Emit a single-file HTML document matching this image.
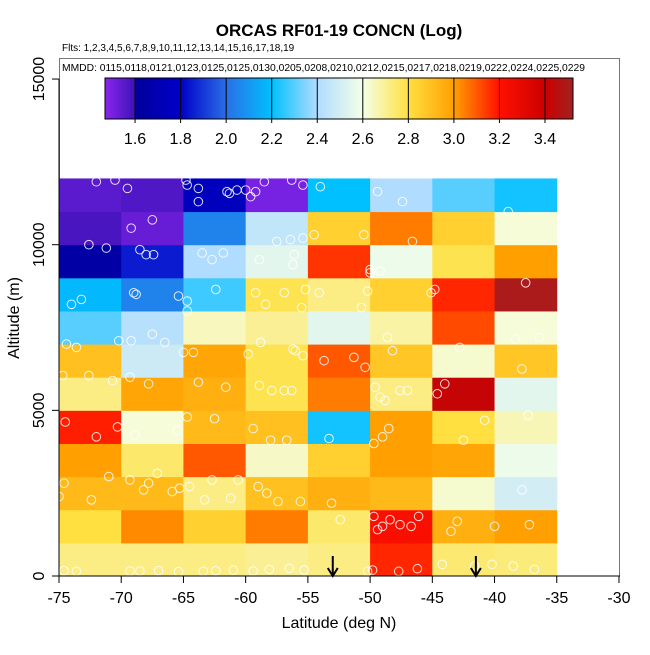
<!DOCTYPE html>
<html><head><meta charset="utf-8"><style>
body{margin:0;background:#fff;}
svg text{font-family:"Liberation Sans",sans-serif;}
</style></head><body>
<svg id="chart" width="650" height="650" viewBox="0 0 650 650" xmlns="http://www.w3.org/2000/svg">
<defs><linearGradient id="cbg" x1="0" x2="1" y1="0" y2="0"></linearGradient></defs>
<rect x="59.5" y="58.5" width="560" height="517.5" fill="none" stroke="#777" stroke-width="1"/>
<g id="cells"></g>
<g id="pts"></g>
<g id="axes"></g>
</svg>
<script>
const lats=[-75,-70,-65,-60,-55,-50,-45,-40];
const alts=[0,1000,2000,3000,4000,5000,6000,7000,8000,9000,10000,11000];
const cellValues=[
[2.72,2.72,2.72,2.70,2.72,3.17,2.74,2.73],
[2.80,3.03,2.85,3.05,2.75,3.22,2.95,3.00],
[2.92,2.92,2.72,2.90,2.95,2.92,2.63,2.50],
[3.00,2.75,3.10,2.64,2.85,3.00,2.98,2.58],
[3.18,2.62,2.92,2.90,2.22,3.00,2.80,2.66],
[2.72,2.98,2.95,2.78,3.05,2.72,3.42,2.55],
[2.90,2.48,2.98,2.78,3.10,2.88,2.63,2.88],
[2.30,2.42,2.65,2.70,2.55,2.68,3.12,2.62],
[2.18,2.05,2.27,2.78,2.72,2.85,3.17,3.50],
[1.65,1.85,2.40,2.55,3.15,2.58,2.78,3.00],
[1.58,1.53,2.05,2.45,2.85,3.05,2.85,2.62],
[1.55,1.57,1.75,1.50,2.20,2.40,2.30,2.22]];
const xTicks=[-75,-70,-65,-60,-55,-50,-45,-40,-35,-30];
const yTicks=[0,5000,10000,15000];
const cbTicks=[1.6,1.8,2.0,2.2,2.4,2.6,2.8,3.0,3.2,3.4];
const arrowLats=[-53,-41.5];
const ptLat=[-72,-70.5,-69.5,-67.5,-64.8,-64.7,-63.8,-63.8,-61.5,-61.3,-60.7,-60,-59.6,-59.2,-58.5,-56.3,-55.4,-54,-49.4,-47.4,
-72.6,-69.2,-67.4,-61.8,-57.5,-56.4,-55.4,-54.5,-50.5,-46.6,-38.9,
-71.2,-68,-68.5,-63.5,-62.7,-58.9,-56.1,-56.2,-50,-50,-49.2,-37.5,
-74,-73.2,-69,-68.8,-64.7,-64.7,-65.4,-62.4,-59.2,-58.4,-56.9,-55.2,-54.1,-55.5,-50.7,-50.2,-45.1,-44.8,-36.4,
-74.4,-73.6,-70.2,-69.2,-67.5,-66.5,-65,-64.2,-59.8,-58.8,-56.2,-56,-55.4,-53.7,-51.3,-50.4,-48.2,-48.6,-42.8,-38.3,-37.8,
-74.7,-72.6,-70.7,-69.3,-67.8,-63.8,-61.6,-58.9,-57.9,-56.9,-56.3,-49.6,-49.2,-48.8,-47.6,-47,-44.6,-44,-37.3,
-74.5,-72,-70.3,-68.9,-65.5,-64.7,-62.5,-59.4,-58,-56.7,-53.3,-49.7,-49,-48.5,-42.5,-40.8,-37.8,
-75,-74.6,-72.4,-71,-69.3,-68.2,-67.8,-67.1,-65.9,-65.3,-64.5,-63.3,-62.7,-61.2,-60.6,-59,-58.3,-57.4,-55.6,-53.1,-52.4,-49.7,-49.4,-49,-48.4,-47.6,-46.7,-46.1,-43.5,-43,-40,-37.2,-36.8,
-74.6,-73.6,-69.3,-68.5,-67,-65.4,-63.4,-62.4,-61,-59.4,-58.1,-56.5,-55.3,-50.2,-49.8,-47.7,-46.2,-44.2,-41.6,-40.2,-38.5];
const ptAlt=[11900,11950,11700,10750,11950,11800,11700,11300,11600,11550,11650,11650,11450,11600,11900,11950,11800,11750,11600,11300,
10000,10500,9700,9750,10100,10150,10200,10300,10300,10100,11000,
9900,9700,9850,9750,9550,9550,9700,9400,9250,9150,9200,8850,
8200,8350,8550,8500,8300,8000,8450,8650,8550,8200,8550,8650,8550,8100,8100,8600,8550,8650,
7200,7000,6900,7100,7100,7300,7050,6750,6750,6700,7050,6850,6800,6650,6500,6600,6300,6800,7200,6900,7150,
6250,6050,6050,5900,6000,5800,5850,5700,5750,5600,5600,5600,5700,5400,5300,5600,5600,5500,5800,
4850,4650,4200,4500,4250,4400,4800,4750,4450,4100,4100,4150,4000,4200,4450,4100,4700,
2600,2400,2800,2300,3000,2900,2600,2800,3100,2550,2650,2700,2300,2900,2350,2900,2700,2500,2250,2250,2200,1700,1800,1400,1500,1700,1550,1500,1800,1350,1650,1500,1550,
200,160,140,150,150,160,130,140,160,180,150,200,230,180,140,180,140,220,350,300,350,300,100,180,150,200,150,140,160,130,140,150,200];
const X=v=>59+(v+75)*12.444;
const Y=v=>576-v*0.03313;
const cbMin=1.468,cbMax=3.523;
const CBX=v=>105+(v-cbMin)/(cbMax-cbMin)*468;
const cmapV=[1.468,1.6,1.6,1.8,2.0,2.2,2.4,2.6,2.8,3.0,3.2,3.4,3.523];
const cmapC=['#8a26ef','#3d12b8','#00009a','#0000c8','#2a6fe6','#00c0ff','#b0dcff','#f4ffe8','#ffe040','#ffa000','#ff1000','#cc0000','#a32121'];
function hx(c){return [1,3,5].map(i=>parseInt(c.substr(i,2),16));}
function col(v){
 if(v<=cmapV[0])return cmapC[0];
 for(let i=0;i<cmapV.length-1;i++){
  if(v<=cmapV[i+1]&&cmapV[i+1]>cmapV[i]){
   const t=(v-cmapV[i])/(cmapV[i+1]-cmapV[i]);const a=hx(cmapC[i]),b=hx(cmapC[i+1]);
   return 'rgb('+a.map((x,k)=>Math.round(x+(b[k]-x)*t)).join(',')+')';
  }}
 return cmapC[cmapC.length-1];
}
const NS='http://www.w3.org/2000/svg';
function mk(tag,attrs,parent,txt){const e=document.createElementNS(NS,tag);for(const k in attrs)e.setAttribute(k,attrs[k]);if(txt!==undefined)e.textContent=txt;parent.appendChild(e);return e;}
const svg=document.getElementById('chart');
const cells=document.getElementById('cells'),pts=document.getElementById('pts'),axes=document.getElementById('axes');
alts.forEach((a,r)=>lats.forEach((l,c)=>{
 const x0=X(l),x1=X(l+5),y0=Y(a+1000),y1=Y(a);
 const e=mk('rect',{x:x0,y:y0,width:x1-x0+0.5,height:y1-y0+0.5,fill:col(cellValues[r][c])},cells);
 
 
}));
ptLat.forEach((l,i)=>{
 const e=mk('circle',{cx:X(l),cy:Y(ptAlt[i]),r:4.3,fill:'none',stroke:'#fff','stroke-width':1,'stroke-opacity':0.85},pts);
 
 
});
mk('line',{x1:59,y1:576,x2:620,y2:576,stroke:'#000','stroke-width':1},axes);
mk('line',{x1:59,y1:Y(15000),x2:59,y2:576,stroke:'#000','stroke-width':1},axes);
xTicks.forEach(t=>{
 mk('line',{x1:X(t),y1:576,x2:X(t),y2:583,stroke:'#000'},axes);
 const e=mk('text',{x:X(t),y:603,'text-anchor':'middle','font-size':16},axes,String(t));
 
 
});
yTicks.forEach(t=>{
 mk('line',{x1:52,y1:Y(t),x2:59,y2:Y(t),stroke:'#000'},axes);
 const e=mk('text',{x:44,y:Y(t),'text-anchor':'middle','font-size':16,transform:'rotate(-90 44 '+Y(t)+')'},axes,String(t));
 
 
});
arrowLats.forEach(l=>{
 const x=X(l);
 mk('line',{x1:x,y1:556,x2:x,y2:575,stroke:'#000','stroke-width':2},axes);
 const e=mk('path',{d:'M'+(x-5)+' 568 L'+x+' 576 L'+(x+5)+' 568',fill:'none',stroke:'#000','stroke-width':2},axes);
 
 
});
let t;
t=mk('text',{x:339,y:628,'text-anchor':'middle','font-size':16},axes,'Latitude (deg N)');

t=mk('text',{x:0,y:0,'text-anchor':'middle','font-size':16,transform:'translate(19 318) rotate(-90)'},axes,'Altitude (m)');

t=mk('text',{x:339,y:36,'text-anchor':'middle','font-size':17,'font-weight':'bold'},axes,'ORCAS RF01-19 CONCN (Log)');

t=mk('text',{x:62,y:51,'font-size':10},axes,'Flts: 1,2,3,4,5,6,7,8,9,10,11,12,13,14,15,16,17,18,19');

const lg=mk('g',{},svg);


t=mk('text',{x:62,y:71,'font-size':10.3},lg,'MMDD: 0115,0118,0121,0123,0125,0125,0130,0205,0208,0210,0212,0215,0217,0218,0219,0222,0224,0225,0229');

const grad=document.getElementById('cbg');
cmapV.forEach((v,i)=>mk('stop',{offset:((v-cbMin)/(cbMax-cbMin)).toFixed(4),'stop-color':cmapC[i]},grad));
mk('rect',{x:105,y:78,width:468,height:41,fill:'url(#cbg)',stroke:'#000','stroke-width':1},lg);
cbTicks.forEach(v=>{
 mk('line',{x1:CBX(v),y1:78,x2:CBX(v),y2:123,stroke:'#000','stroke-width':1},lg);
 const e=mk('text',{x:CBX(v),y:144,'text-anchor':'middle','font-size':16},lg,v.toFixed(1));
 
 
});
</script>
</body></html>
